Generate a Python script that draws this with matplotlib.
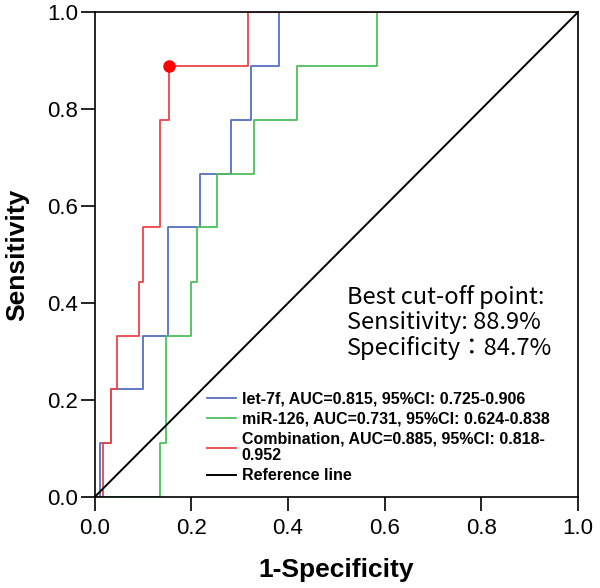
import matplotlib
matplotlib.use("Agg")
import matplotlib.pyplot as plt

plt.rcParams['font.family'] = ['Liberation Sans', 'DejaVu Sans']

# ROC step vertices (1-specificity, sensitivity)
let7f_fpr = [0, 0.011, 0.034, 0.099, 0.152, 0.217, 0.282, 0.323, 0.382, 1.0]
let7f_tpr = [0, 0.111, 0.222, 0.333, 0.556, 0.667, 0.778, 0.889, 1.0, 1.0]
mir126_fpr = [0, 0.135, 0.147, 0.199, 0.211, 0.254, 0.330, 0.418, 0.585, 1.0]
mir126_tpr = [0, 0.111, 0.333, 0.444, 0.556, 0.667, 0.778, 0.889, 1.0, 1.0]
comb_fpr = [0, 0.018, 0.034, 0.046, 0.092, 0.099, 0.135, 0.153, 0.318, 1.0]
comb_tpr = [0, 0.111, 0.222, 0.333, 0.444, 0.556, 0.778, 0.889, 1.0, 1.0]
best_point = (0.153, 0.889)

labels = ["let-7f, AUC=0.815, 95%CI: 0.725-0.906",
          "miR-126, AUC=0.731, 95%CI: 0.624-0.838",
          "Combination, AUC=0.885, 95%CI: 0.818-\n0.952",
          "Reference line"]
colors = ["#5470c0", "#4cbf5a", "#ee4448", "black"]
ticks = [0.0, 0.2, 0.4, 0.6, 0.8, 1.0]
note_lines = ["Best cut-off point:", "Sensitivity: 88.9%", "Specificity\uff1a84.7%"]

fig = plt.figure(figsize=(6, 5.88), dpi=100)
ax = fig.add_axes([0.158, 0.155, 0.805, 0.824])

ax.plot(let7f_fpr, let7f_tpr, drawstyle='steps-post', color=colors[0], lw=1.3, label=labels[0])
ax.plot(mir126_fpr, mir126_tpr, drawstyle='steps-post', color=colors[1], lw=1.3, label=labels[1])
ax.plot(comb_fpr, comb_tpr, drawstyle='steps-post', color=colors[2], lw=1.3, label=labels[2])
ax.plot([0, 1], [0, 1], color=colors[3], lw=1.4, label=labels[3])
ax.plot(*best_point, 'o', color='red', ms=8, zorder=5)

ax.set_xlim(0, 1)
ax.set_ylim(0, 1)
ax.set_xticks(ticks)
ax.set_yticks(ticks)
ax.set_xticklabels([f"{t:.1f}" for t in ticks], fontsize=16)
ax.set_yticklabels([f"{t:.1f}" for t in ticks], fontsize=16)
ax.tick_params(direction='out', length=10, width=1.2)
ax.tick_params(axis='x', pad=5)
ax.tick_params(axis='y', pad=2)
for s in ax.spines.values():
    s.set_linewidth(1.2)

ax.set_xlabel("1-Specificity", fontsize=19, fontweight='bold', labelpad=14)
ax.set_ylabel("Sensitivity", fontsize=19, fontweight='bold', labelpad=13)

leg = ax.legend(loc='lower left', bbox_to_anchor=(0.21, 0.005), frameon=True,
                prop={'weight': 'bold', 'size': 11.5}, handlelength=1.8,
                handletextpad=0.35, labelspacing=0.3, borderpad=0.2,
                fancybox=False, framealpha=1)
leg.get_frame().set_edgecolor('none')
leg.get_frame().set_facecolor('white')

for i, line in enumerate(note_lines):
    ax.text(0.522, 0.412 - i * 0.052, line, fontsize=17, va='center', ha='left',
            family=['Noto Sans CJK TC', 'DejaVu Sans'])

fig.savefig("out.png", dpi=100)
